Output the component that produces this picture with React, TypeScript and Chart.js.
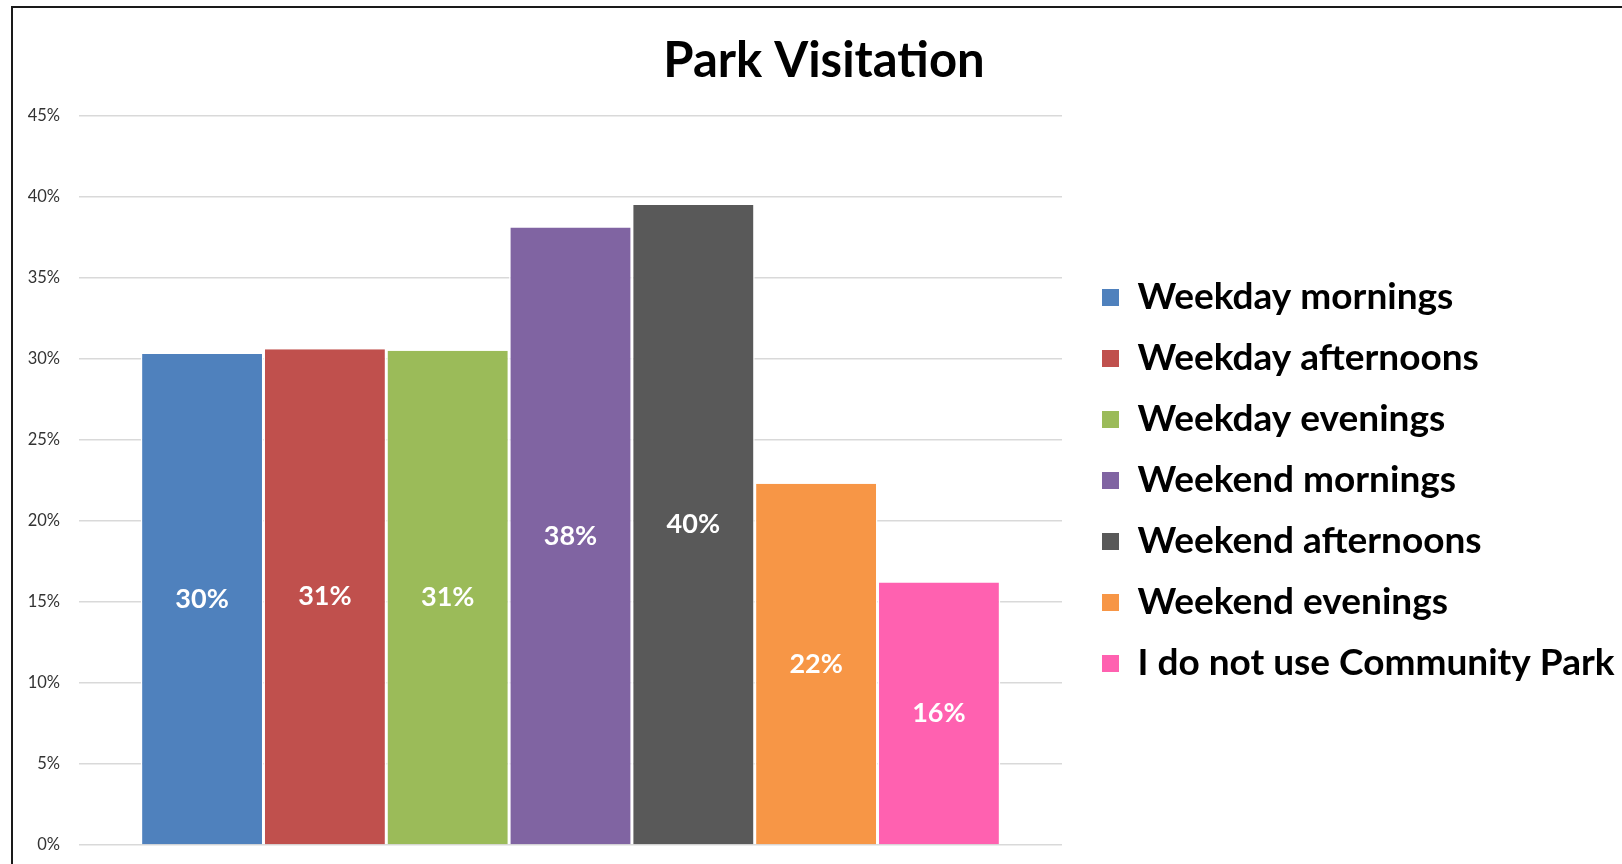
import React, { useEffect, useRef } from "react";
import { Chart, registerables } from "chart.js";

Chart.register(...registerables);

const TITLE = "Park Visitation";
const CATEGORIES = [""];
const SERIES_NAMES = [
  "Weekday mornings",
  "Weekday afternoons",
  "Weekday evenings",
  "Weekend mornings",
  "Weekend afternoons",
  "Weekend evenings",
  "I do not use Community Park",
];
const SERIES_VALUES = [30.3, 30.6, 30.5, 38.1, 39.5, 22.3, 16.2];
const SERIES_COLORS = ["#4F81BD", "#C0504D", "#9BBB59", "#8064A2", "#595959", "#F79646", "#FF61B0"];
const Y_MIN = 0;
const Y_MAX = 45;
const Y_STEP = 5;

const FONT = "Lato";
const LEGEND_SIZE = 37;
const LEGEND_PAD = 24;
const LEGEND_BOX = 17;

const dataLabelPlugin = {
  id: "barValueLabels",
  afterDatasetsDraw(chart: any) {
    const ctx = chart.ctx;
    ctx.save();
    ctx.fillStyle = "#ffffff";
    ctx.font = `bold 27px ${FONT}`;
    ctx.textAlign = "center";
    ctx.textBaseline = "middle";
    chart.data.datasets.forEach((ds: any, i: number) => {
      const meta = chart.getDatasetMeta(i);
      meta.data.forEach((el: any, j: number) => {
        const { x, y, base } = el.getProps(["x", "y", "base"], true);
        const v = ds.data[j];
        ctx.fillText(`${Math.round(v)}%`, x, (y + base) / 2);
      });
    });
    ctx.restore();
  },
};

export default function App() {
  const ref = useRef<HTMLCanvasElement | null>(null);

  useEffect(() => {
    const canvas = ref.current!;
    const canvasW = 1700;
    const canvasH = 885;
    const plotBottom = 845;
    const mctx = document.createElement("canvas").getContext("2d")!;
    mctx.font = `bold ${LEGEND_SIZE}px ${FONT}`;
    const textW = Math.max(...SERIES_NAMES.map((s) => mctx.measureText(s).width));
    const boxX = 1102;
    const legendLeft = boxX - LEGEND_PAD;
    const plotRight = 1062;
    const plotLeft = 79;
    const titleCenter = 824;
    const padL = 20;
    const yAxisW = plotLeft - padL;
    const legendW = LEGEND_PAD + LEGEND_BOX + LEGEND_SIZE / 2 + textW + 10;
    const legendRight = legendLeft + legendW;
    const targetRight = 2 * titleCenter - padL;
    const outerW = Math.max(0, targetRight - legendRight);
    const padR = canvasW - legendRight - outerW;
    const innerW = legendLeft - plotRight;

    const chart = new Chart(canvas, {
      type: "bar",
      data: {
        labels: CATEGORIES,
        datasets: SERIES_NAMES.map((name, i) => ({
          label: name,
          data: [SERIES_VALUES[i]],
          backgroundColor: SERIES_COLORS[i],
          borderColor: "#ffffff",
          borderWidth: { left: 1.5, right: 1.5, top: 0, bottom: 0 },
          barPercentage: 1,
          categoryPercentage: 0.8745,
        })),
      },
      options: {
        responsive: false,
        animation: false,
        events: [],
        layout: { padding: { left: padL, right: padR, top: 0, bottom: canvasH - plotBottom } },
        scales: {
          x: { display: false },
          y: {
            min: Y_MIN,
            max: Y_MAX,
            border: { display: false },
            grid: { color: "#d9d9d9", lineWidth: 1.5, drawTicks: false },
            ticks: {
              stepSize: Y_STEP,
              padding: 19,
              color: "#333333",
              font: { family: FONT, size: 16.5 },
              callback: (v: any) => `${v}%`,
            },
            afterFit: (s: any) => {
              s.width = yAxisW;
            },
          },
          spacerInner: {
            type: "linear",
            position: "right",
            weight: 0,
            display: true,
            grid: { display: false },
            border: { display: false },
            ticks: { display: false },
            afterFit: (s: any) => {
              s.width = innerW;
            },
          },
          spacerOuter: {
            type: "linear",
            position: "right",
            weight: 2000,
            display: true,
            grid: { display: false },
            border: { display: false },
            ticks: { display: false },
            afterFit: (s: any) => {
              s.width = outerW;
            },
          },
        },
        plugins: {
          title: {
            display: true,
            text: TITLE,
            color: "#000000",
            font: { family: FONT, size: 49, weight: "bold" },
            padding: { top: 32, bottom: 25 },
          },
          legend: {
            position: "right",
            fullSize: false,
            maxWidth: 2000,
            labels: {
              color: "#000000",
              font: { family: FONT, size: LEGEND_SIZE, weight: "bold" },
              boxWidth: LEGEND_BOX,
              boxHeight: LEGEND_BOX,
              padding: LEGEND_PAD,
              generateLabels: (c: any) =>
                (Chart.defaults.plugins.legend.labels as any)
                  .generateLabels(c)
                  .map((l: any) => ({ ...l, lineWidth: 0 })),
            },
          },
          tooltip: { enabled: false },
        },
      } as any,
      plugins: [dataLabelPlugin],
    });
    return () => chart.destroy();
  }, []);

  return (
    <div
      style={{
        position: "fixed",
        left: 0,
        top: 0,
        width: 1622,
        height: 864,
        overflow: "hidden",
        background: "#ffffff",
      }}
    >
      <canvas ref={ref} width={1700} height={885} style={{ position: "absolute", left: 0, top: 0 }} />
      <div
        style={{
          position: "absolute",
          left: 11,
          top: 6,
          width: 3000,
          height: 3000,
          borderLeft: "2px solid #1a1a1a",
          borderTop: "2px solid #1a1a1a",
          pointerEvents: "none",
        }}
      />
    </div>
  );
}
